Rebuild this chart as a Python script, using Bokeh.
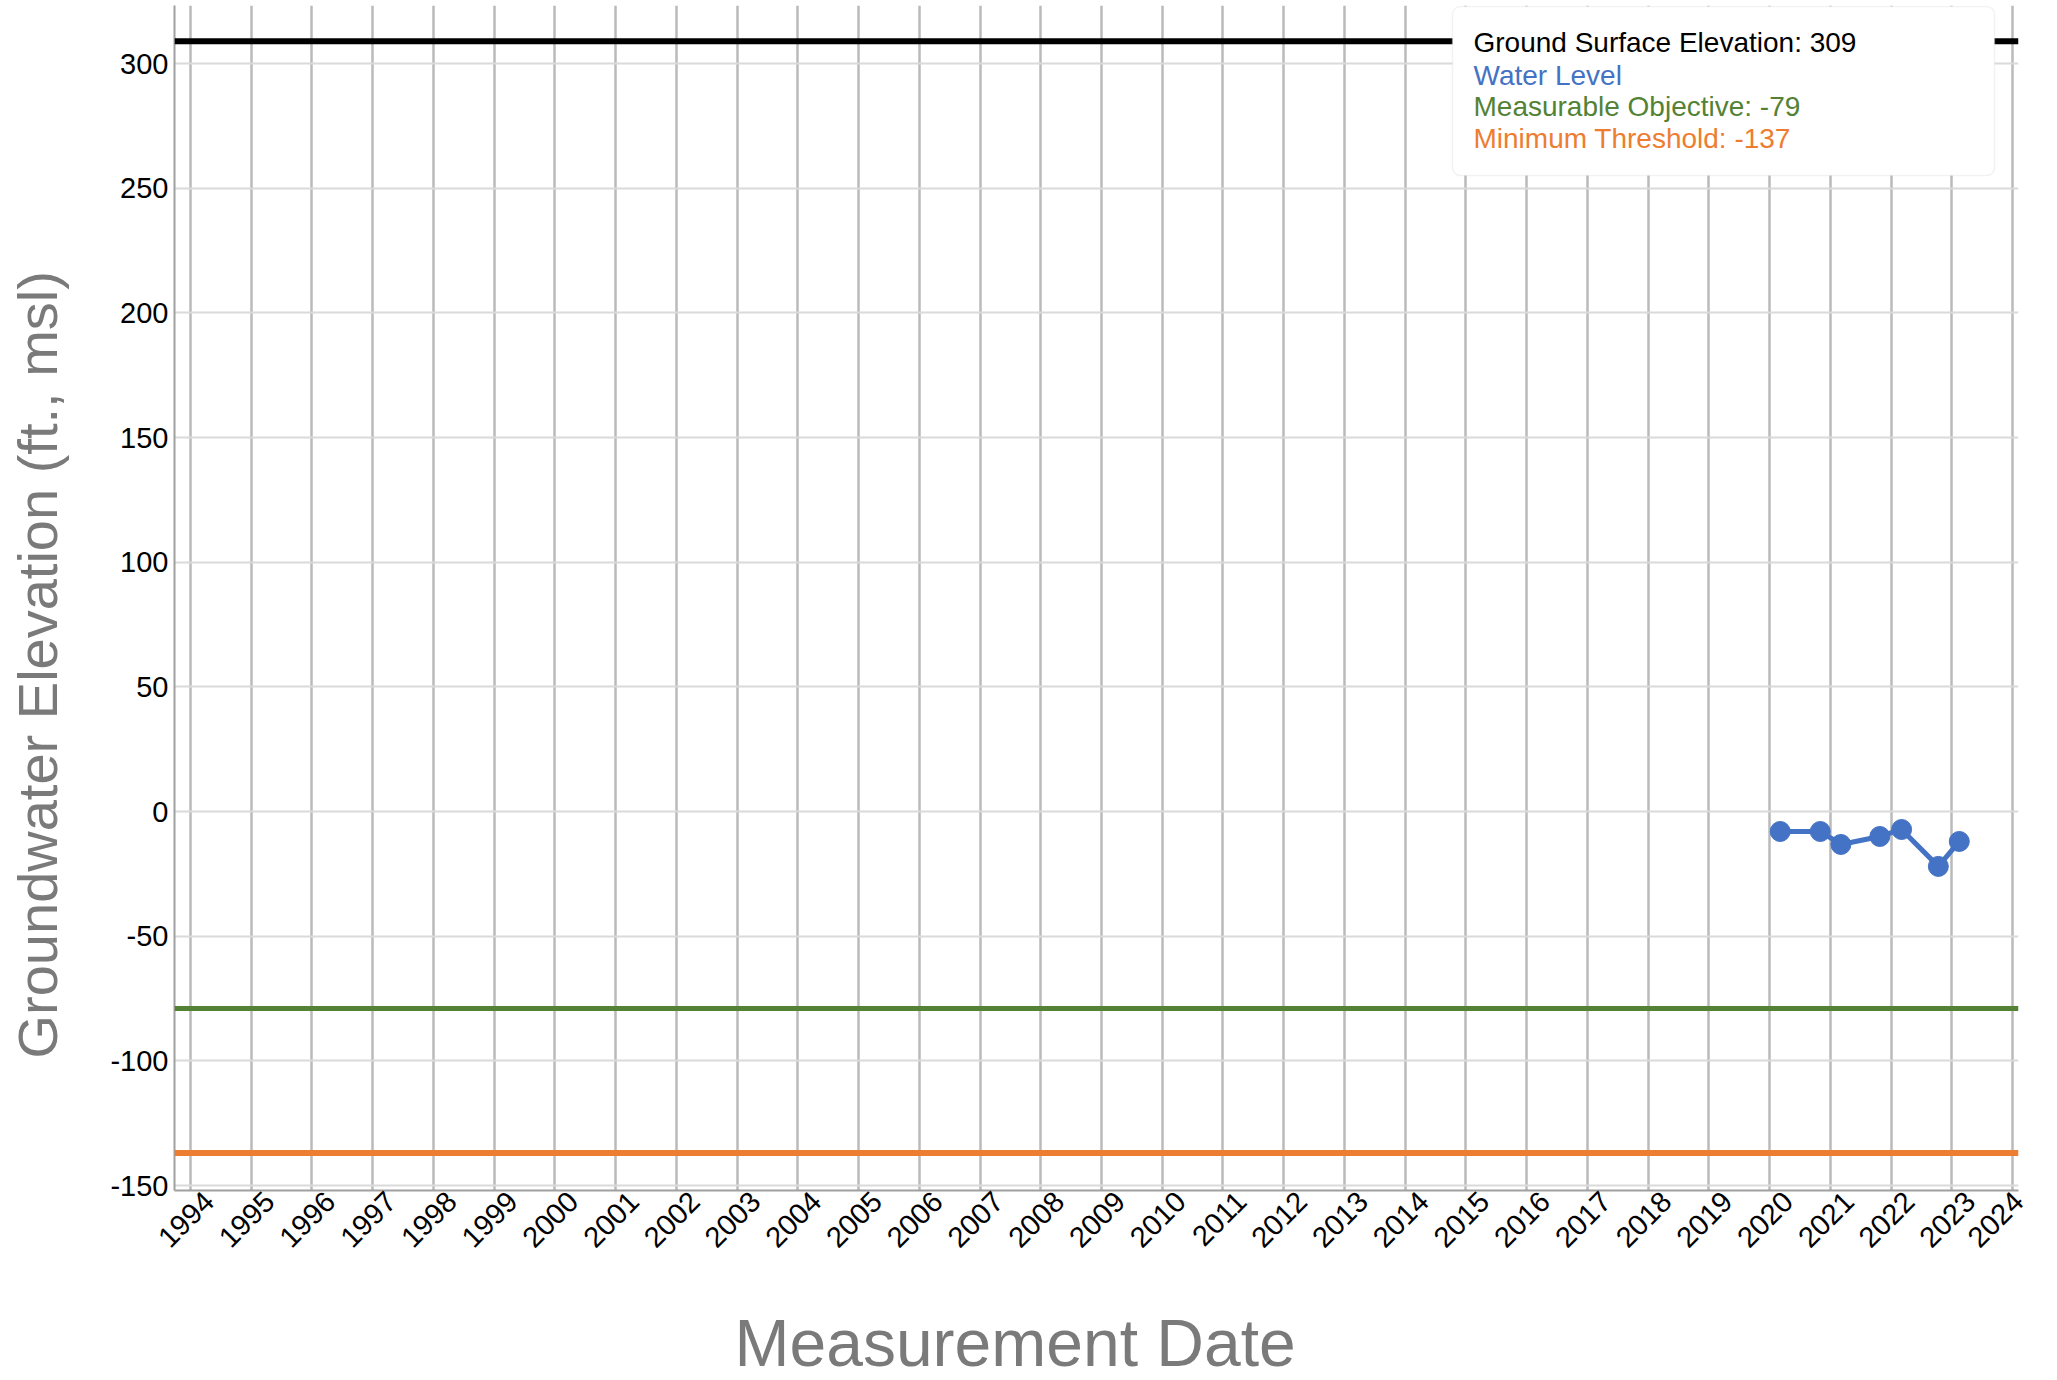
import math
import datetime as dt
from bokeh.plotting import figure
from bokeh.models import (Span, BoxAnnotation, Label, Title, FixedTicker,
                          DatetimeTickFormatter, Range1d, ColumnDataSource)
from bokeh.embed import file_html
from bokeh.resources import INLINE

# ---- data ----
years = list(range(1994, 2025))
y_ticks = [-150, -100, -50, 0, 50, 100, 150, 200, 250, 300]
dates = ["2020-03-05", "2020-11-01", "2021-03-05", "2021-10-25",
         "2022-03-05", "2022-10-12", "2023-02-15"]
levels = [-8.0, -8.0, -13.2, -10.0, -7.2, -22.0, -12.0]
ground_surface = 309
measurable_objective = -79
minimum_threshold = -137
legend_texts = ["Ground Surface Elevation: 309", "Water Level",
                "Measurable Objective: -79", "Minimum Threshold: -137"]
legend_colors = ["#000000", "#4472C4", "#548235", "#ED7D31"]
x_title = "Measurement Date"
y_title = "Groundwater Elevation (ft., msl)"

FONT = "Liberation Sans"
LABEL_SHIFT_DAYS = 110  # nudges year labels right of their gridline, as in the original

def to_ms(d):
    return (d - dt.datetime(1970, 1, 1)).total_seconds() * 1000.0

src = ColumnDataSource(dict(
    date=[dt.datetime.strptime(s, "%Y-%m-%d") for s in dates],
    level=levels))

FW, FH = 1844, 1185
ML, MR, MT, MB = 174, 38, 5, 190
x_start, x_end = dt.datetime(1993, 9, 27), dt.datetime(2024, 2, 6)

p = figure(frame_width=FW, frame_height=FH, x_axis_type="datetime",
           output_backend="svg", toolbar_location=None,
           x_range=Range1d(x_start, x_end),
           y_range=Range1d(-152, 323.3),
           min_border_left=ML, min_border_right=MR,
           min_border_top=MT, min_border_bottom=MB)
p.outline_line_color = None
p.background_fill_color = "white"

# axes
year_ticks = [to_ms(dt.datetime(y, 1, 1)) for y in years]
label_ticks = [to_ms(min(dt.datetime(y, 1, 1) + dt.timedelta(days=LABEL_SHIFT_DAYS),
                         x_end - dt.timedelta(days=1))) for y in years]
p.xaxis.ticker = FixedTicker(ticks=label_ticks)
p.xgrid.ticker = FixedTicker(ticks=year_ticks)
p.xaxis.formatter = DatetimeTickFormatter(years="%Y", months="%Y", days="%Y")
p.yaxis.ticker = FixedTicker(ticks=y_ticks)
p.yaxis.major_label_overrides = {v: str(v) for v in y_ticks}
for ax in (p.xaxis, p.yaxis):
    ax.major_tick_line_color = None
    ax.minor_tick_line_color = None
    ax.major_tick_out = 0
    ax.major_tick_in = 0
    ax.minor_tick_out = 0
    ax.minor_tick_in = 0
    ax.axis_line_color = "#a0a0a0"
    ax.axis_line_width = 2
    ax.major_label_text_font = FONT
    ax.major_label_text_font_size = "29px"
    ax.major_label_text_color = "#000000"
p.yaxis.major_label_standoff = 6
p.xaxis.major_label_standoff = 6
p.xaxis.major_label_orientation = math.pi / 4

p.xgrid.grid_line_color = "#bababa"
p.xgrid.grid_line_width = 2.5
p.ygrid.grid_line_color = "#dadada"
p.ygrid.grid_line_width = 2

# reference lines
p.add_layout(Span(location=ground_surface, dimension="width",
                  line_color=legend_colors[0], line_width=6))
p.add_layout(Span(location=measurable_objective, dimension="width",
                  line_color=legend_colors[2], line_width=5))
p.add_layout(Span(location=minimum_threshold, dimension="width",
                  line_color=legend_colors[3], line_width=6))

# water level
p.line("date", "level", source=src, line_color=legend_colors[1], line_width=5)
p.scatter("date", "level", source=src, size=20, fill_color=legend_colors[1],
          line_color=legend_colors[1])

# legend box
p.add_layout(BoxAnnotation(left=1278, right=1820, top=FH - 1, bottom=FH - 170,
                           left_units="screen", right_units="screen",
                           top_units="screen", bottom_units="screen",
                           fill_color="white", fill_alpha=1.0,
                           line_color="#d4d4d4", line_width=1.5,
                           border_radius=8))
baselines = [37, 70, 101, 133]
for txt, col, b in zip(legend_texts, legend_colors, baselines):
    p.add_layout(Label(x=1299, y=FH - b, x_units="screen", y_units="screen",
                       text=txt, text_color=col, text_font=FONT,
                       text_font_size="28px", text_baseline="alphabetic",
                       text_align="left"))

# axis titles (placed in the side panels, outside the frame)
p.add_layout(Title(text=x_title, align="left", offset=560, vertical_align="top",
                   standoff=-30, padding=dict(top=61, right=0, bottom=0, left=0),
                   text_color="#7a7a7a", text_font=FONT,
                   text_font_size="66px", text_font_style="normal"), "below")
p.add_layout(Title(text=y_title, align="left", offset=132, vertical_align="bottom",
                   standoff=0, padding=dict(top=0, right=0, bottom=39, left=0),
                   text_color="#7a7a7a", text_font=FONT,
                   text_font_size="56px", text_font_style="normal"), "left")

open("out.html", "w").write(file_html(p, INLINE))
